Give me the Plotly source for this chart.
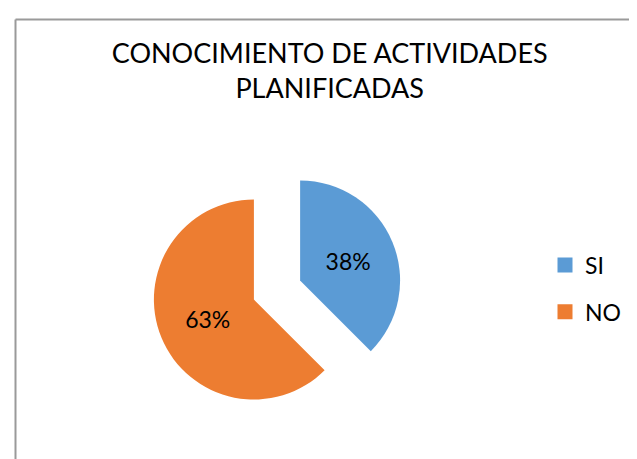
import plotly.graph_objects as go

# chart data
labels = ["SI", "NO"]
values = [37.5, 62.5]
colors = ["#5B9BD5", "#ED7D31"]

W, H = 637, 459
FONT = "Lato"

fig = go.Figure()

fig.add_trace(go.Pie(
    labels=labels,
    values=values,
    marker=dict(colors=colors),
    sort=False,
    direction="clockwise",
    rotation=0,
    pull=[0.25, 0.25],
    texttemplate="%{percent:.0%}",
    textposition="inside",
    insidetextorientation="horizontal",
    textfont=dict(family=FONT, size=23, color="#000000"),
    domain=dict(x=[144 / W, 394 / W], y=[(H - 407) / H, (H - 157) / H]),
    showlegend=False,
    hoverinfo="label+percent",
))

# legend entries (one group each so the spacing can be opened up)
for lab, col in zip(labels, colors):
    fig.add_trace(go.Scatter(
        x=[None], y=[None], mode="markers", name=lab,
        legendgroup=lab,
        marker=dict(symbol="square", size=15, color=col),
    ))

fig.update_layout(
    width=W, height=H,
    margin=dict(l=0, r=0, t=0, b=0),
    paper_bgcolor="white",
    plot_bgcolor="white",
    xaxis=dict(visible=False),
    yaxis=dict(visible=False),
    title=dict(
        text="CONOCIMIENTO DE ACTIVIDADES<br>PLANIFICADAS",
        x=0.505, xanchor="center",
        y=1 - 55 / H, yanchor="top",
        font=dict(family=FONT, size=27, color="#000000"),
    ),
    legend=dict(
        x=537 / W, xanchor="left",
        y=0.5 - 51 / H, yanchor="middle",
        font=dict(family=FONT, size=23, color="#000000"),
        tracegroupgap=14,
        itemwidth=30,
        bgcolor="rgba(0,0,0,0)",
    ),
    shapes=[
        dict(type="line", xref="paper", yref="paper",
             x0=7.5 / W, x1=1, y0=1 - 11.5 / H, y1=1 - 11.5 / H,
             line=dict(color="#9A9A9A", width=2)),
        dict(type="line", xref="paper", yref="paper",
             x0=7.5 / W, x1=7.5 / W, y0=0, y1=1 - 11.5 / H,
             line=dict(color="#9A9A9A", width=2)),
    ],
)

fig.write_html("out.html")
